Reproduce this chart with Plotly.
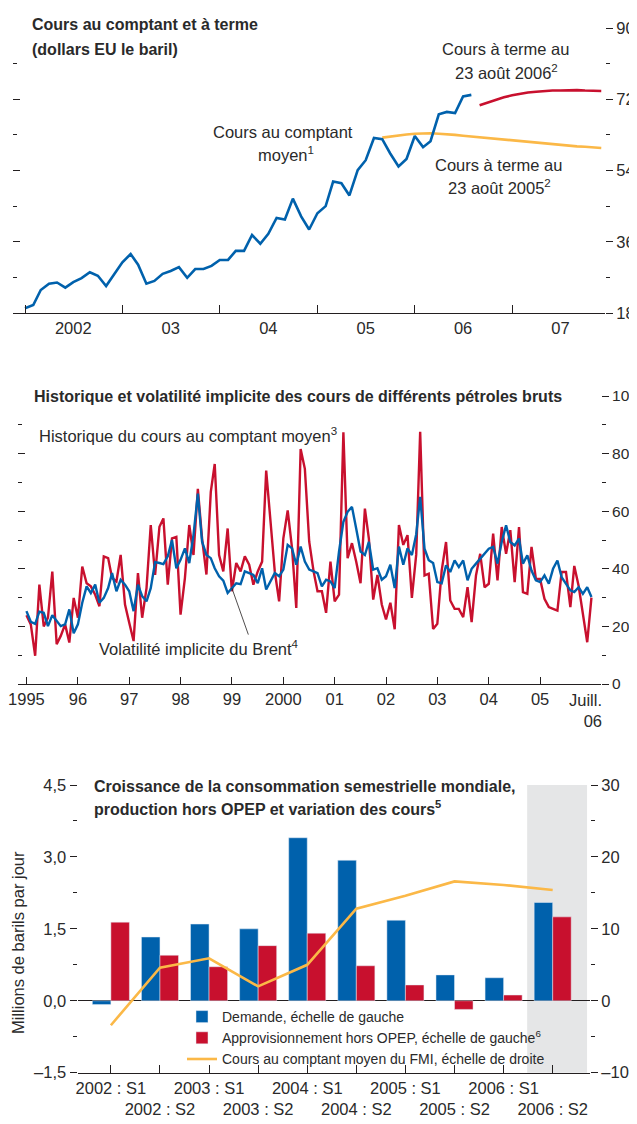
import plotly.graph_objects as go
import pandas as pd

# la page HTML garde une marge de 8 px autour de la figure
MARGE_PAGE = 8
W, H = 637 - MARGE_PAGE, 1124 - MARGE_PAGE

# --- Panneau 1 : cours au comptant et a terme (dollars EU le baril)
spot_debut = "2002-01-01"
spot_prix = [19.2, 20.0, 23.8, 25.4, 25.7, 24.4, 25.8, 26.8, 28.3, 27.4, 24.8, 27.9,
             30.8, 32.9, 30.2, 25.4, 26.1, 27.9, 28.6, 29.6, 26.9, 29.1, 29.1, 29.9,
             31.4, 31.4, 33.7, 33.7, 37.7, 35.5, 38.0, 42.0, 41.6, 46.9, 42.4, 39.1,
             43.2, 45.0, 51.2, 50.8, 47.7, 54.1, 56.6, 62.2, 61.9, 58.3, 55.0, 56.9,
             62.7, 59.9, 61.4, 68.2, 68.8, 68.5, 72.7, 73.1]
terme05_debut = "2005-09-01"
terme05 = [62.3, 62.6, 62.9, 63.1, 63.3, 63.4, 63.4, 63.3, 63.2, 63.0, 62.8, 62.6,
           62.4, 62.2, 62.0, 61.8, 61.6, 61.4, 61.2, 61.0, 60.8, 60.6, 60.4, 60.3,
           60.1, 60.0, 59.8, 59.7]
terme06_debut = "2006-09-01"
terme06 = [70.5, 71.2, 71.9, 72.5, 73.0, 73.4, 73.7, 73.9, 74.1, 74.2, 74.2, 74.3,
           74.3, 74.2, 74.2, 74.1]
annees_p1 = ["2002", "03", "04", "05", "06", "07"]

# --- Panneau 2 : volatilite historique et implicite
vol_debut = "1995-07-01"
vol_historique = [23.9, 20.7, 9.8, 34.5, 20.0, 23.0, 39.0, 13.8, 16.7, 20.7, 14.4, 29.9,
                  23.0, 40.8, 35.0, 33.9, 31.0, 27.0, 44.3, 43.7, 36.8, 35.6, 44.8, 27.6,
                  21.3, 14.9, 38.5, 23.0, 33.3, 55.2, 37.9, 54.6, 57.5, 34.5, 50.6, 51.1,
                  24.1, 36.8, 55.2, 44.8, 67.8, 50.6, 38.0, 66.7, 76.4, 44.8, 39.1, 54.0,
                  32.2, 42.0, 39.1, 44.3, 41.4, 34.5, 39.1, 42.5, 74.1, 56.3, 39.1, 28.7,
                  50.6, 60.3, 47.1, 26.4, 81.6, 74.7, 49.4, 39.1, 32.2, 32.2, 24.7, 42.5,
                  28.7, 31.0, 87.4, 43.7, 48.9, 42.5, 35.0, 60.9, 50.6, 29.3, 37.9, 27.6,
                  22.4, 28.2, 19.0, 55.2, 48.3, 51.7, 29.9, 45.0, 87.6, 37.7, 38.3, 19.1,
                  20.9, 39.4, 49.3, 29.0, 26.1, 26.1, 23.2, 33.6, 21.5, 37.7, 45.2, 33.6,
                  34.8, 52.2, 36.0, 54.5, 45.2, 53.4, 35.4, 54.5, 31.9, 31.3, 47.6, 36.5,
                  36.5, 29.6, 26.7, 26.1, 25.5, 38.9, 38.9, 26.7, 41.0, 34.0, 24.0, 14.5,
                  30.0]
vol_brent = [25.3, 21.6, 20.9, 25.1, 24.7, 20.1, 23.9, 22.1, 20.1, 20.7, 25.9, 17.6,
             20.7, 28.2, 33.9, 31.6, 34.5, 28.2, 29.9, 33.3, 38.5, 32.2, 36.2, 34.5,
             32.2, 25.3, 34.5, 30.5, 28.7, 33.3, 42.3, 42.0, 41.6, 44.3, 50.0, 40.2,
             43.1, 47.1, 42.0, 51.7, 66.1, 49.4, 44.8, 43.7, 40.2, 37.4, 35.9, 31.6,
             33.3, 35.0, 34.7, 39.1, 38.5, 37.9, 35.0, 40.2, 32.8, 35.6, 38.5, 37.4,
             39.7, 48.3, 47.1, 41.4, 47.7, 42.5, 39.7, 39.1, 38.5, 33.9, 36.2, 35.6,
             33.3, 46.0, 56.3, 59.8, 61.5, 54.0, 46.0, 44.8, 49.4, 39.7, 40.2, 36.2,
             37.4, 41.4, 33.3, 47.7, 41.4, 47.1, 44.8, 52.0, 65.0, 47.0, 43.0, 42.0,
             35.4, 35.0, 41.2, 38.9, 42.9, 40.6, 42.9, 36.0, 40.0, 41.8, 43.5, 45.2,
             47.0, 47.6, 41.8, 49.3, 55.1, 49.3, 48.1, 50.5, 41.8, 44.7, 39.4, 36.0,
             35.4, 37.7, 34.8, 40.0, 42.9, 37.1, 34.8, 32.5, 31.9, 33.6, 31.3, 33.6,
             30.2]
annees_p2 = ["1995", "96", "97", "98", "99", "2000", "01", "02", "03", "04", "05"]

# --- Panneau 3 : croissance semestrielle
semestres = ["2002 : S1", "2002 : S2", "2003 : S1", "2003 : S2", "2004 : S1",
             "2004 : S2", "2005 : S1", "2005 : S2", "2006 : S1", "2006 : S2"]
demande = [-0.08, 1.33, 1.60, 1.50, 3.40, 2.93, 1.68, 0.54, 0.48, 2.05]
offre_hors_opep = [1.64, 0.95, 0.71, 1.15, 1.41, 0.73, 0.33, -0.18, 0.12, 1.75]
cours_moyen = [-3.4, 4.6, 5.9, 2.0, 5.0, 12.8, 14.6, 16.6, 16.1, 15.4]

BLEU = "#0061AC"
ROUGE = "#C8102E"
ORANGE = "#FBB847"
GRIS = "#E5E6E7"
NOIR = "#231F20"
TXT = "#2A2A2A"
POLICE = "Liberation Sans, Arial, sans-serif"


def px(x):
    return (x - MARGE_PAGE) / W


def py(y):
    return 1 - (y - MARGE_PAGE) / H


fig = go.Figure()

# panneau 1
d_spot = pd.date_range(spot_debut, periods=len(spot_prix), freq="MS")
d_t05 = pd.date_range(terme05_debut, periods=len(terme05), freq="MS")
d_t06 = pd.date_range(terme06_debut, periods=len(terme06), freq="MS")
fig.add_trace(go.Scatter(x=d_t05, y=terme05, mode="lines", line=dict(color=ORANGE, width=2.6),
                         xaxis="x", yaxis="y", showlegend=False, hoverinfo="skip"))
fig.add_trace(go.Scatter(x=d_t06, y=terme06, mode="lines", line=dict(color=ROUGE, width=2.6),
                         xaxis="x", yaxis="y", showlegend=False, hoverinfo="skip"))
fig.add_trace(go.Scatter(x=d_spot, y=spot_prix, mode="lines", line=dict(color=BLEU, width=2.6),
                         xaxis="x", yaxis="y", showlegend=False, hoverinfo="skip"))
fig.add_trace(go.Scatter(x=[], y=[], xaxis="x", yaxis="y5", showlegend=False))

# panneau 2
d_vol = pd.date_range(vol_debut, periods=len(vol_historique), freq="MS")
d_brent = pd.date_range(vol_debut, periods=len(vol_brent), freq="MS")
fig.add_trace(go.Scatter(x=d_vol, y=vol_historique, mode="lines", line=dict(color=ROUGE, width=2.4),
                         xaxis="x2", yaxis="y2", showlegend=False, hoverinfo="skip"))
fig.add_trace(go.Scatter(x=d_brent, y=vol_brent, mode="lines", line=dict(color=BLEU, width=2.4),
                         xaxis="x2", yaxis="y2", showlegend=False, hoverinfo="skip"))
fig.add_trace(go.Scatter(x=[], y=[], xaxis="x2", yaxis="y6", showlegend=False))

# panneau 3
fig.add_trace(go.Bar(x=semestres, y=demande, marker_color=BLEU, name="Demande, échelle de gauche",
                     xaxis="x3", yaxis="y3"))
fig.add_trace(go.Bar(x=semestres, y=offre_hors_opep, marker_color=ROUGE,
                     name="Approvisionnement hors OPEP, échelle de gauche<sup>6</sup>",
                     xaxis="x3", yaxis="y3"))
fig.add_trace(go.Scatter(x=semestres, y=cours_moyen, mode="lines", line=dict(color=ORANGE, width=2.6),
                         name="Cours au comptant moyen du FMI, échelle de droite",
                         xaxis="x3", yaxis="y4"))

tickfont = dict(family=POLICE, size=16.5, color=TXT)


def axe_y(rng, vals, texts, minor0, minordt, side, ticks, domain=None, overlay=None,
          labels=True, anchor="x", font=tickfont):
    d = dict(range=rng, tickmode="array", tickvals=vals, ticktext=texts, side=side,
             ticks=ticks, ticklen=7, tickwidth=1.2, tickcolor=NOIR, showgrid=False,
             zeroline=False, showline=False, showticklabels=labels, tickfont=font,
             anchor=anchor, automargin=False,
             minor=dict(tick0=minor0, dtick=minordt, ticks=ticks, ticklen=4,
                        tickwidth=1, tickcolor=NOIR, showgrid=False))
    if domain is not None:
        d["domain"] = domain
    if overlay is not None:
        d["overlaying"] = overlay
    return d


v1 = [18, 36, 54, 72, 90]
v2 = [0, 20, 40, 60, 80, 100]

fig.update_layout(
    width=W, height=H, margin=dict(l=0, r=0, t=0, b=0, autoexpand=False),
    paper_bgcolor="white", plot_bgcolor="white",
    font=dict(family=POLICE, size=16.5, color=TXT),
    barmode="group", bargap=0.245, bargroupgap=0,
    xaxis=dict(domain=[px(13), px(605)], anchor="y", range=["2001-11-17", "2007-12-15"],
               showline=True, linecolor=NOIR, linewidth=1.2, showgrid=False, zeroline=False,
               automargin=False,
               tickmode="array", tickvals=[f"{2002 + i}-07-01" for i in range(len(annees_p1))],
               ticktext=annees_p1, ticks="", tickfont=tickfont, tickangle=0,
               minor=dict(tick0="2002-01-01", dtick="M12", ticks="inside", ticklen=8,
                          tickwidth=1.2, tickcolor=NOIR, showgrid=False)),
    yaxis=axe_y([18, 90], v1, [str(v) for v in v1], 27, 18, "right", "outside",
                domain=[py(313), py(28)]),
    yaxis5=axe_y([18, 90], v1, [str(v) for v in v1], 27, 18, "left", "inside",
                 overlay="y", labels=False),
    xaxis2=dict(domain=[px(18), px(601)], anchor="y2", range=["1995-05-02", "2006-09-07"],
                showline=True, linecolor=NOIR, linewidth=1.2, showgrid=False, zeroline=False,
                automargin=False,
                tickmode="array", tickvals=[f"{1995 + i}-07-01" for i in range(len(annees_p2))],
                ticktext=annees_p2, ticks="inside", ticklen=7, tickwidth=1.2, tickcolor=NOIR,
                tickfont=tickfont, tickangle=0),
    yaxis2=axe_y([0, 100], v2, [str(v) for v in v2], 10, 20, "right", "outside",
                 domain=[py(684), py(396)], anchor="x2", font=dict(tickfont, size=15.5)),
    yaxis6=axe_y([0, 100], v2, [str(v) for v in v2], 10, 20, "left", "inside",
                 overlay="y2", labels=False, anchor="x2"),
    xaxis3=dict(domain=[px(77.5), px(590)], anchor="y3", type="category",
                range=[-0.68, len(semestres) - 0.24],
                showline=True, linecolor=NOIR, linewidth=1.2, showgrid=False, zeroline=False,
                automargin=False,
                tickmode="array", tickvals=semestres,
                ticktext=[s if i % 2 == 0 else "<br>" + s for i, s in enumerate(semestres)],
                ticks="inside", ticklen=8, tickwidth=1.2, tickcolor=NOIR, tickfont=tickfont,
                tickangle=0),
    yaxis3=axe_y([-1.5, 4.5], [-1.5, 0, 1.5, 3.0, 4.5], ["–1,5", "0,0", "1,5", "3,0", "4,5"],
                 -0.75, 1.5, "left", "outside", domain=[py(1072.7), py(785)], anchor="x3"),
    yaxis4=axe_y([-10, 30], [-10, 0, 10, 20, 30], ["–10", "0", "10", "20", "30"],
                 -5, 10, "right", "outside", overlay="y3", anchor="x3"),
    legend=dict(x=px(182), y=py(1001), xanchor="left", yanchor="top",
                bgcolor="rgba(0,0,0,0)", font=dict(family=POLICE, size=14, color=TXT),
                tracegroupgap=0, itemclick=False),
)
fig.layout.yaxis3.zeroline = True
fig.layout.yaxis3.zerolinecolor = NOIR
fig.layout.yaxis3.zerolinewidth = 1.2

fig.add_shape(type="rect", xref="x3", yref="y3 domain", x0=len(semestres) - 1.52,
              x1=len(semestres) - 0.3, y0=0, y1=1, fillcolor=GRIS, line_width=0, layer="below")


def note(texte, x, y, xanchor="center", bold=False, size=16.5, angle=0):
    t = f"<b>{texte}</b>" if bold else texte
    fig.add_annotation(text=t, x=px(x), y=py(y), xref="paper", yref="paper",
                       xanchor=xanchor, yanchor="middle", showarrow=False, textangle=angle,
                       font=dict(family=POLICE, size=size, color=TXT))


# titres et libelles
note("Cours au comptant et à terme", 30, 24, "left", True, 16)
note("(dollars EU le baril)", 30, 49, "left", True, 16)
note("Cours au comptant", 283, 132)
note("moyen<sup>1</sup>", 286, 154)
note("Cours à terme au", 505, 49)
note("23 août 2006<sup>2</sup>", 506, 72)
note("Cours à terme au", 498, 165)
note("23 août 2005<sup>2</sup>", 499, 187)

note("Historique et volatilité implicite des cours de différents pétroles bruts", 32, 396,
     "left", True, 16)
note("Historique du cours au comptant moyen<sup>3</sup>", 37, 435, "left")
note("Volatilité implicite du Brent<sup>4</sup>", 97, 648, "left")
fig.add_annotation(x=d_brent[48], y=vol_brent[48], xref="x2", yref="y2", text="",
                   showarrow=True, arrowhead=0, arrowwidth=0.8, arrowcolor=NOIR,
                   ax=17, ay=48)
fig.add_annotation(text="Juill.<br>06", x=px(604), y=py(689), xref="paper", yref="paper",
                   xanchor="right", yanchor="top", align="right", showarrow=False,
                   font=tickfont)

note("Croissance de la consommation semestrielle mondiale,", 92, 786, "left", True, 16)
note("production hors OPEP et variation des cours<sup>5</sup>", 92, 808, "left", True, 16)
note("Millions de barils par jour", 18, 943, angle=-90, size=16.5)
note("Dollars EU le baril", 636, 937, angle=-90, size=16.5)

fig.write_html("out.html")
